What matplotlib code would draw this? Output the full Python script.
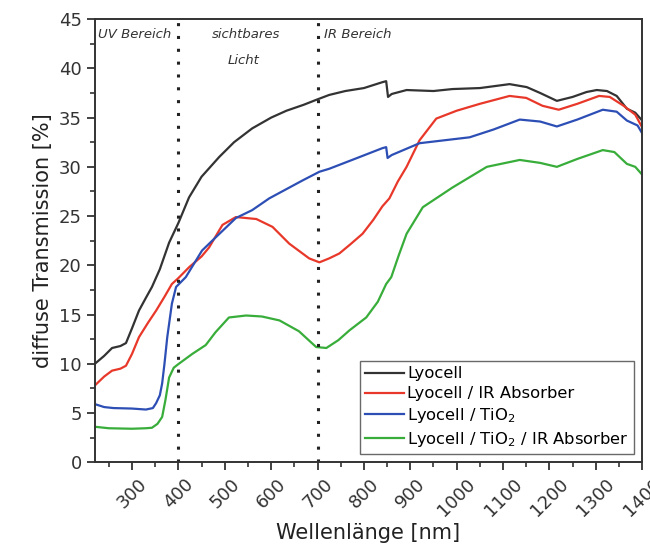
import matplotlib.pyplot as plt
from matplotlib.ticker import MultipleLocator

# spectra (wavelength in nm, diffuse transmission in %)
wl_lyocell = [220, 240, 257, 275, 287, 300, 315, 330, 343, 360, 380, 400, 423, 450,
              488, 520, 559, 600, 633, 670, 697, 725, 760, 800, 840, 848, 852, 860,
              892, 950, 991, 1050, 1114, 1151, 1180, 1216, 1250, 1280, 1302, 1324,
              1345, 1367, 1385, 1400]
t_lyocell = [10.0, 10.8, 11.6, 11.8, 12.1, 13.6, 15.4, 16.7, 17.8, 19.6, 22.3, 24.3,
             26.9, 29.0, 31.0, 32.5, 33.9, 35.0, 35.7, 36.3, 36.8, 37.3, 37.7, 38.0,
             38.6, 38.7, 37.1, 37.4, 37.8, 37.7, 37.9, 38.0, 38.4, 38.1, 37.5, 36.7,
             37.1, 37.6, 37.8, 37.7, 37.2, 35.9, 35.5, 34.7]

wl_ir = [220, 240, 257, 275, 287, 300, 315, 335, 352, 370, 386, 400, 423, 450, 466,
         495, 524, 568, 603, 639, 682, 704, 725, 747, 770, 797, 820, 840, 855, 873,
         892, 920, 956, 1000, 1050, 1114, 1150, 1185, 1220, 1260, 1307, 1330, 1360,
         1385, 1400]
t_ir = [7.8, 8.7, 9.3, 9.5, 9.8, 11.0, 12.7, 14.2, 15.4, 16.8, 18.1, 18.7, 19.8,
        20.9, 21.8, 24.1, 24.9, 24.7, 23.9, 22.2, 20.7, 20.3, 20.7, 21.2, 22.1, 23.2,
        24.6, 26.0, 26.8, 28.5, 30.0, 32.7, 34.9, 35.7, 36.4, 37.2, 37.0, 36.2, 35.8,
        36.4, 37.2, 37.1, 36.2, 35.3, 34.0]

wl_tio2 = [220, 240, 260, 300, 330, 345, 352, 360, 365, 370, 376, 386, 395, 416,
           451, 473, 524, 559, 596, 667, 704, 725, 780, 840, 848, 851, 860, 920,
           1028, 1080, 1136, 1180, 1216, 1260, 1315, 1345, 1367, 1390, 1400]
t_tio2 = [5.9, 5.6, 5.5, 5.45, 5.35, 5.5, 6.0, 6.8, 8.0, 10.0, 12.7, 16.1, 17.8,
          18.8, 21.5, 22.5, 24.8, 25.6, 26.8, 28.6, 29.5, 29.8, 30.8, 31.9, 32.0,
          30.9, 31.2, 32.4, 33.0, 33.8, 34.8, 34.6, 34.1, 34.8, 35.8, 35.6, 34.7,
          34.2, 33.4]

wl_tio2_ir = [220, 250, 300, 330, 343, 355, 365, 372, 380, 390, 401, 430, 459, 480,
              509, 546, 580, 618, 660, 697, 719, 745, 769, 805, 830, 848, 859, 875,
              892, 927, 991, 1065, 1136, 1180, 1216, 1260, 1315, 1340, 1367, 1385,
              1400]
t_tio2_ir = [3.6, 3.45, 3.4, 3.45, 3.5, 3.9, 4.6, 6.3, 8.6, 9.6, 10.0, 11.0, 11.9,
             13.2, 14.7, 14.9, 14.8, 14.4, 13.3, 11.7, 11.6, 12.4, 13.4, 14.7, 16.3,
             18.1, 18.8, 21.0, 23.2, 25.9, 27.9, 30.0, 30.7, 30.4, 30.0, 30.8, 31.7,
             31.5, 30.3, 30.0, 29.2]

labels = ['Lyocell', 'Lyocell / IR Absorber', 'Lyocell / TiO$_2$',
          'Lyocell / TiO$_2$ / IR Absorber']
colors = ['#333333', '#e8382a', '#2d4fb5', '#38ad3a']
region_lines = [400, 700]

fig = plt.figure(figsize=(6.5, 5.47), dpi=100)
ax = fig.add_axes([0.146, 0.155, 0.842, 0.81])

series = [(wl_lyocell, t_lyocell), (wl_ir, t_ir), (wl_tio2, t_tio2),
          (wl_tio2_ir, t_tio2_ir)]
for (x, y), lab, col in zip(series, labels, colors):
    ax.plot(x, y, color=col, lw=1.6, label=lab)

for xv in region_lines:
    ax.axvline(xv, color='#222222', ls=(0, (1, 3.2)), lw=2.2)

# region annotations
ax.text(226, 43.4, 'UV Bereich', style='italic', fontsize=9.5, color='#333333',
        ha='left', va='center')
ax.text(545, 43.4, 'sichtbares', style='italic', fontsize=9.5, color='#333333',
        ha='center', va='center')
ax.text(540, 40.8, 'Licht', style='italic', fontsize=9.5, color='#333333',
        ha='center', va='center')
ax.text(715, 43.4, 'IR Bereich', style='italic', fontsize=9.5, color='#333333',
        ha='left', va='center')

ax.set_xlim(220, 1400)
ax.set_ylim(0, 45)
ax.xaxis.set_major_locator(MultipleLocator(100))
ax.xaxis.set_minor_locator(MultipleLocator(50))
ax.yaxis.set_major_locator(MultipleLocator(5))
ax.yaxis.set_minor_locator(MultipleLocator(2.5))
ax.set_xticks(range(300, 1401, 100))
ax.tick_params(which='major', direction='out', length=6, width=1.3,
               labelsize=13, colors='#333333')
ax.tick_params(which='minor', direction='out', length=3.5, width=1.2,
               colors='#333333')
plt.setp(ax.get_xticklabels(), rotation=45, ha='center', va='top')
for sp in ax.spines.values():
    sp.set_linewidth(1.4)
    sp.set_color('#333333')

ax.set_xlabel('Wellenlänge [nm]', fontsize=15, color='#222222', labelpad=2)
ax.set_ylabel('diffuse Transmission [%]', fontsize=15, color='#222222')

leg = ax.legend(loc='lower right', fontsize=11.8, frameon=True, fancybox=False,
                edgecolor='#444444', handlelength=2.4, handletextpad=0.2,
                borderpad=0.3, labelspacing=0.3, borderaxespad=0.5)
leg.get_frame().set_linewidth(1.0)

fig.savefig('out.png', dpi=100)
